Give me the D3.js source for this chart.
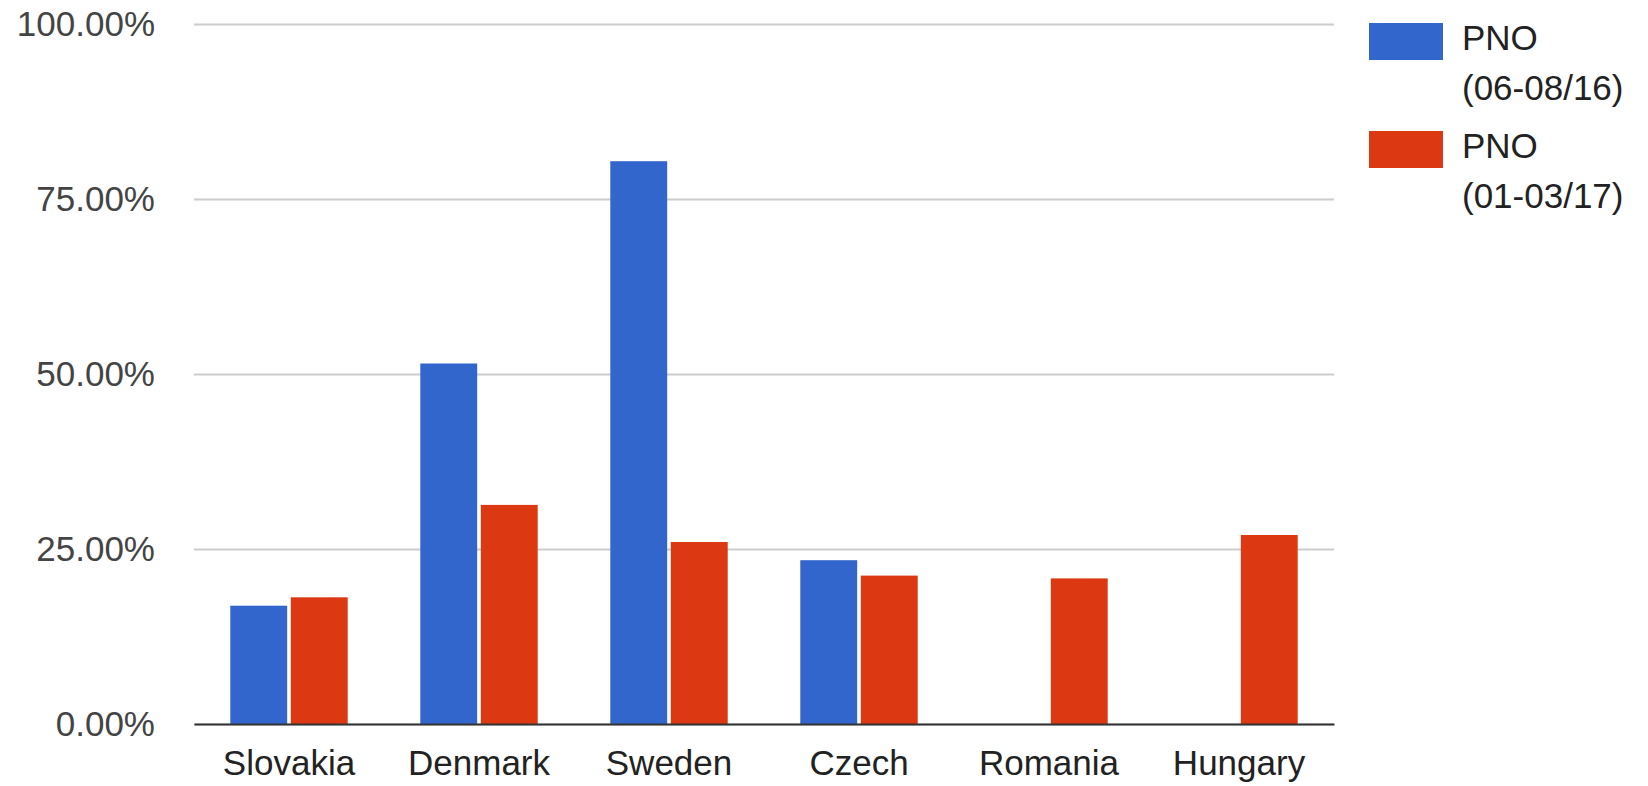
<!DOCTYPE html>
<html>
<head>
<meta charset="utf-8">
<script src="https://cdn.jsdelivr.net/npm/d3@7"></script>
<style>
  html, body { margin: 0; padding: 0; background: #fff; overflow: hidden; }
  svg { display: block; }
</style>
</head>
<body>
<svg width="1648" height="786"></svg>
<script>
const categories = ['Slovakia', 'Denmark', 'Sweden', 'Czech', 'Romania', 'Hungary'];
const pno2016 = [16.9, 51.5, 80.4, 23.4, null, null];
const pno2017 = [18.1, 31.3, 26.0, 21.2, 20.8, 27.0];
const seriesKeys = ['s2016', 's2017'];
const seriesLabels = [['PNO', '(06-08/16)'], ['PNO', '(01-03/17)']];
const seriesColors = ['#3366cc', '#dc3912'];
const yTicks = [0, 25, 50, 75, 100];

const fontFamily = '"Liberation Sans", Arial, sans-serif';
const svg = d3.select('svg');
const margin = {top: 24, right: 314, bottom: 62, left: 194};
const width = +svg.attr('width');
const height = +svg.attr('height');
const innerWidth = width - margin.left - margin.right;
const innerHeight = height - margin.top - margin.bottom;

const data = categories.map((c, i) => ({category: c, s2016: pno2016[i], s2017: pno2017[i]}));

const xScale = d3.scaleBand()
    .domain(categories)
    .range([0, innerWidth])
    .padding(0);

// grouped bars take ~62% of each category band
const groupWidth = xScale.bandwidth() * 0.618;
const xSub = d3.scaleBand()
    .domain(seriesKeys)
    .range([0, groupWidth])
    .paddingInner(0.06);

const yScale = d3.scaleLinear()
    .domain([0, 100])
    .range([innerHeight, 0]);

const g = svg.append('g')
    .attr('transform', `translate(${margin.left},${margin.top})`);

// y axis with gridlines
const yAxisG = g.append('g')
    .call(d3.axisLeft(yScale)
        .tickValues(yTicks)
        .tickFormat(d => d3.format('.2f')(d) + '%')
        .tickSize(-innerWidth)
        .tickPadding(39))
    .attr('font-size', 35)
    .attr('font-family', fontFamily);
yAxisG.select('.domain').remove();
yAxisG.selectAll('.tick line')
    .attr('stroke', '#cccccc')
    .attr('stroke-width', 2);
yAxisG.selectAll('.tick text')
    .attr('fill', '#444');

// bars
const groups = g.selectAll('.group').data(data)
    .enter().append('g')
        .attr('transform', d => `translate(${xScale(d.category) + (xScale.bandwidth() - groupWidth) / 2},0)`);

groups.selectAll('rect')
    .data(d => seriesKeys.map((k, i) => ({key: k, value: d[k], color: seriesColors[i]})).filter(s => s.value != null))
    .enter().append('rect')
        .attr('x', s => xSub(s.key))
        .attr('y', s => yScale(s.value))
        .attr('width', xSub.bandwidth())
        .attr('height', s => innerHeight - yScale(s.value))
        .attr('fill', s => s.color);

// x axis (baseline)
const xAxisG = g.append('g')
    .attr('transform', `translate(0,${innerHeight})`)
    .call(d3.axisBottom(xScale).tickSize(0).tickPadding(26))
    .attr('font-size', 35)
    .attr('font-family', fontFamily);
xAxisG.select('.domain')
    .attr('stroke', '#333')
    .attr('stroke-width', 2);
xAxisG.selectAll('.tick text')
    .attr('fill', '#222');

// legend
const legend = svg.append('g')
    .attr('transform', 'translate(1369,23)')
    .attr('font-size', 35)
    .attr('font-family', fontFamily);

const items = legend.selectAll('g').data(seriesLabels)
    .enter().append('g')
        .attr('transform', (d, i) => `translate(0,${i * 108})`);

items.append('rect')
    .attr('width', 74)
    .attr('height', 37)
    .attr('fill', (d, i) => seriesColors[i]);

items.append('text')
    .attr('x', 93)
    .attr('y', 27)
    .attr('fill', '#222')
    .selectAll('tspan').data(d => d)
    .enter().append('tspan')
        .attr('x', 93)
        .attr('dy', (d, i) => i === 0 ? 0 : 50)
        .text(d => d);
</script>
</body>
</html>
